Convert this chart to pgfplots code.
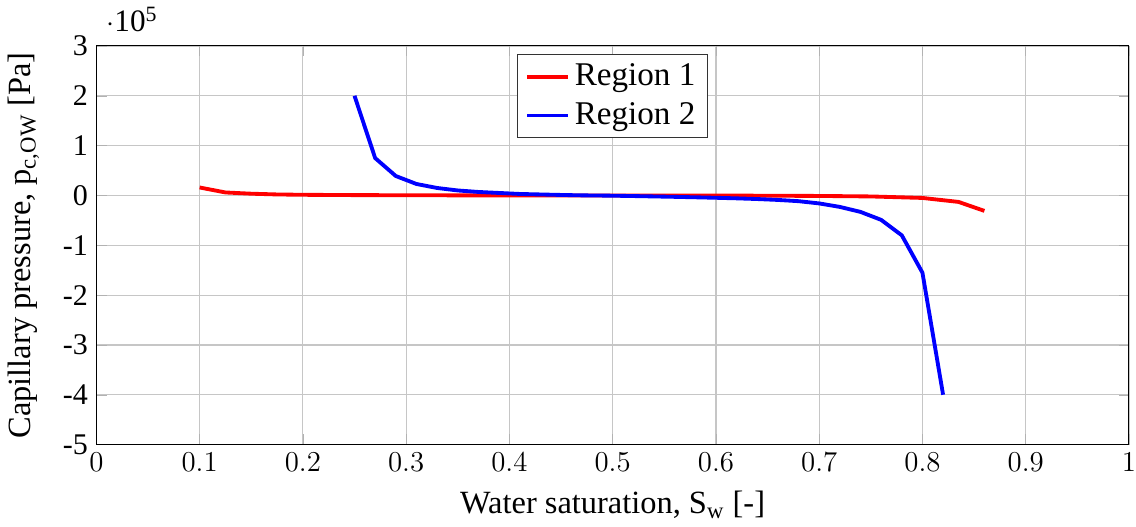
\documentclass[border=0pt]{standalone}
\usepackage{fontspec}
\setmainfont{Liberation Serif}
\usepackage{pgfplots}
\pgfplotsset{compat=1.18}
\begin{document}
\begin{tikzpicture}
\begin{axis}[
  scale only axis,
  width=430pt, height=166pt,
  xmin=0, xmax=1, ymin=-5, ymax=3,
  xtick={0,0.1,...,1},
  ytick={-5,-4,-3,-2,-1,0,1,2,3},
  yticklabels={-5,-4,-3,-2,-1,0,1,2,3},
  yticklabel style={font=\fontsize{12.5}{14}\selectfont},
  xticklabel style={font=\fontsize{12.5}{14}\selectfont, inner xsep=0pt},
  xticklabel={$\pgfmathprintnumber[fixed,precision=1]{\tick}$},
  grid=major,
  grid style={gray!45, line width=0.5pt},
  tick style={gray!60},
  label style={font=\fontsize{13.5}{16}\selectfont},
  xlabel={Water saturation, S\textsubscript{w} [-]},
  ylabel={Capillary pressure, p\textsubscript{c,OW} [Pa]},
  xlabel style={yshift=-1pt},
  ylabel style={yshift=3pt},
  legend style={font=\fontsize{13.8}{17}\selectfont, draw=black!80, at={(0.5,0.98)}, anchor=north, row sep=1.5pt},
  legend cell align=left,
  extra description/.code={\node[anchor=south west, font=\fontsize{13}{15}\selectfont, inner xsep=0pt, inner ysep=3pt] at ([xshift=4pt,yshift=2.5pt]rel axis cs:0,1) {\ensuremath{\cdot}10\textsuperscript{5}};},
]
\addplot[red, line width=1.6pt] coordinates {
(0.10,0.16) (0.125,0.06) (0.15,0.035) (0.175,0.02) (0.20,0.013) (0.25,0.007) (0.30,0.004)
(0.35,0.002) (0.40,0.001) (0.45,0.0) (0.50,-0.001) (0.55,-0.002) (0.60,-0.003)
(0.65,-0.005) (0.70,-0.01) (0.75,-0.02) (0.80,-0.05) (0.835,-0.13) (0.86,-0.31)
};
\addlegendentry{Region 1}
\addplot[blue, line width=1.6pt] coordinates {
(0.25,2.0) (0.27,0.75) (0.29,0.39) (0.31,0.23) (0.33,0.15) (0.35,0.10) (0.37,0.07)
(0.39,0.05) (0.41,0.03) (0.43,0.02) (0.45,0.01) (0.47,0.002) (0.50,-0.005)
(0.52,-0.012) (0.54,-0.02) (0.56,-0.028) (0.58,-0.037) (0.60,-0.047) (0.62,-0.058)
(0.64,-0.072) (0.66,-0.09) (0.68,-0.115) (0.70,-0.16) (0.72,-0.23) (0.74,-0.33)
(0.76,-0.49) (0.78,-0.80) (0.80,-1.55) (0.82,-4.0)
};
\addlegendentry{Region 2}
\end{axis}
\end{tikzpicture}
\end{document}
